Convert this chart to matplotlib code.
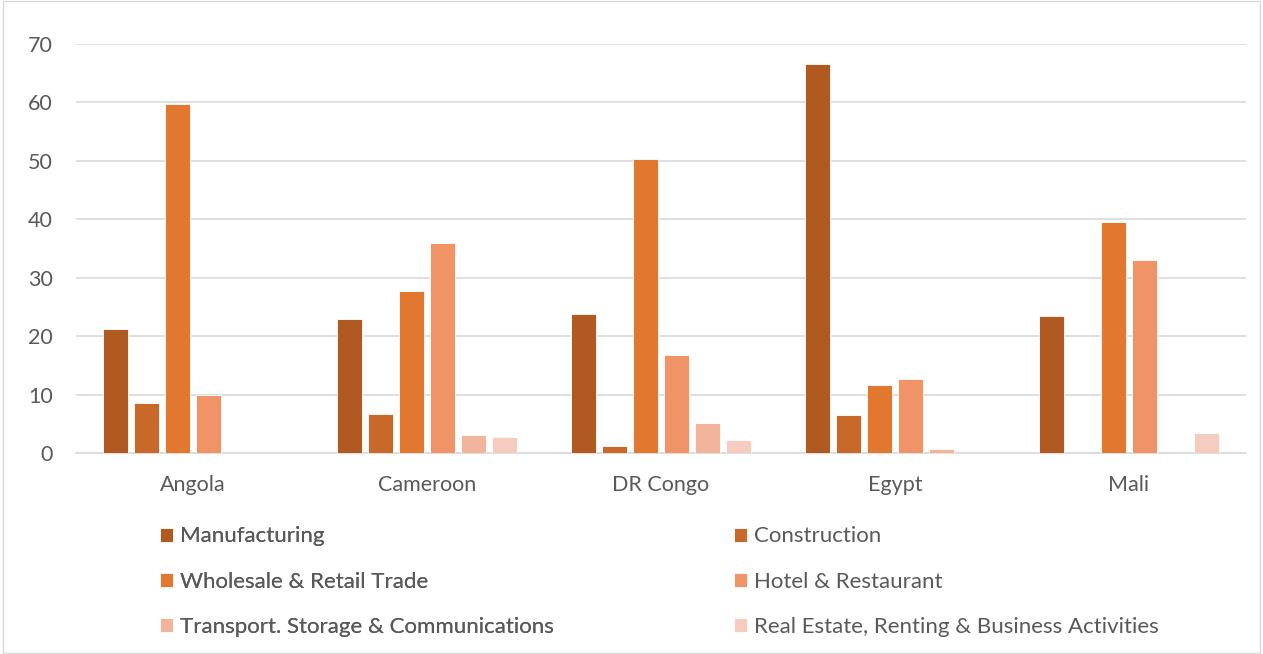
import matplotlib.pyplot as plt
import numpy as np

paises = ["Angola", "Cameroon", "DR Congo", "Egypt", "Mali"]
setores = ["Manufacturing", "Construction", "Wholesale & Retail Trade",
           "Hotel & Restaurant", "Transport. Storage & Communications",
           "Real Estate, Renting & Business Activities"]

manufacturing = [21.2, 23.0, 23.8, 66.6, 23.4]
construction = [8.6, 6.7, 1.2, 6.5, 0.0]
wholesale = [59.7, 27.8, 50.3, 11.6, 39.5]
hotel = [9.9, 36.0, 16.7, 12.6, 33.1]
transport = [0.0, 3.1, 5.1, 0.7, 0.0]
real_estate = [0.0, 2.7, 2.3, 0.0, 3.5]

series = [manufacturing, construction, wholesale, hotel, transport, real_estate]
cores = ["#B05A22", "#C8692A", "#E27830", "#F09366", "#F3B49C", "#F5CCBF"]

plt.rcParams['font.family'] = ['Lato', 'DejaVu Sans']

fig = plt.figure(figsize=(12.63, 6.54), dpi=100)
ax = fig.add_axes([0.0602, 0.3073, 0.9263, 0.6254])

x = np.arange(len(paises))
passo = 0.1325
largura = 0.107
barras = []
for i, (vals, cor) in enumerate(zip(series, cores)):
    b = ax.bar(x + (i - 2.5) * passo, vals, largura, color=cor,
               edgecolor='white', linewidth=0.6, label=setores[i], zorder=3)
    barras.append(b)

ax.set_xlim(-0.5, len(paises) - 0.5)
ax.set_ylim(0, 70)
ax.set_yticks(range(0, 71, 10))
ax.set_xticks(x)
ax.set_xticklabels(paises)
ax.grid(axis='y', color='#D9D9D9', linewidth=1.2, zorder=0)
ax.tick_params(axis='both', length=0, labelsize=15.5, colors='#595959')
ax.tick_params(axis='x', pad=16)
ax.tick_params(axis='y', pad=16.5)
for lado in ['top', 'right', 'left']:
    ax.spines[lado].set_visible(False)
ax.spines['bottom'].set_color('#D9D9D9')
ax.spines['bottom'].set_linewidth(1.2)

# legenda em duas colunas, preenchida por linha
kw = dict(frameon=False, fontsize=16, handlelength=0.58, handleheight=0.58,
          handletextpad=0.3, labelspacing=1.14, labelcolor='#595959',
          borderaxespad=0, borderpad=0)
leg1 = fig.legend([barras[0], barras[2], barras[4]],
                  [setores[0], setores[2], setores[4]],
                  loc='upper left', bbox_to_anchor=(0.1267, 0.195), **kw)
leg2 = fig.legend([barras[1], barras[3], barras[5]],
                  [setores[1], setores[3], setores[5]],
                  loc='upper left', bbox_to_anchor=(0.5812, 0.195), **kw)
fig.add_artist(leg1)

borda = plt.Rectangle((0.002, 0.002), 0.996, 0.996, transform=fig.transFigure,
                      fill=False, edgecolor='#D9D9D9', linewidth=1)
fig.add_artist(borda)

fig.savefig("out.png", dpi=100)
plt.close(fig)
